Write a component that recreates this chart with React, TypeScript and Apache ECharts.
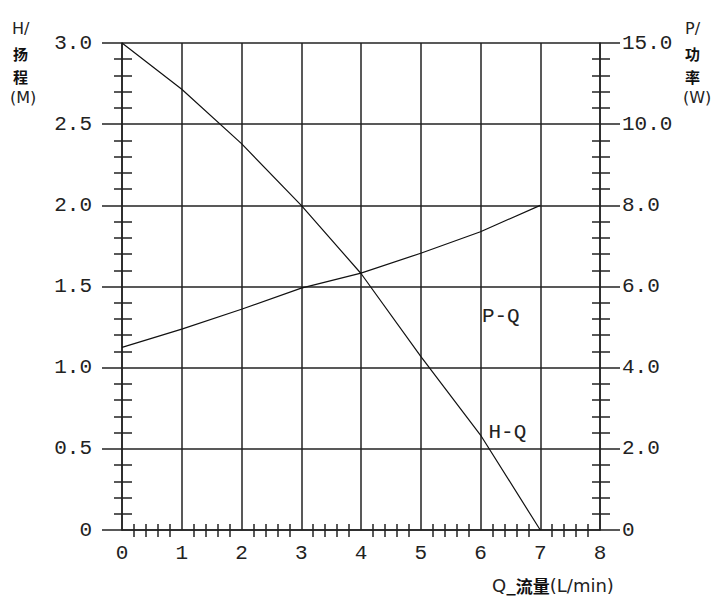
import React, { useEffect, useRef } from "react";
import * as echarts from "echarts";

// Flow Q (L/min)
const Q = [0, 1, 2, 3, 4, 5, 6, 7];
// Head H (m)
const H = [3.0, 2.715, 2.38, 2.0, 1.58, 1.07, 0.585, 0];
// Power P (W), plotted against the right axis
const P = [4.5, 4.95, 5.44, 5.96, 6.33, 6.82, 7.35, 8.0];

const X_TICKS = ["0", "1", "2", "3", "4", "5", "6", "7", "8"];
const H_TICKS = ["0", "0.5", "1.0", "1.5", "2.0", "2.5", "3.0"];
const P_TICKS = ["0", "2.0", "4.0", "6.0", "8.0", "10.0", "15.0"];

const PQ_LABEL_AT = [6.34, 5.25];
const HQ_LABEL_AT = [6.45, 0.6];

const NUM_FONT = "Liberation Mono";
const LINE = "#222";
const TXT = "#222";

export default function App() {
  const ref = useRef<HTMLDivElement>(null);
  useEffect(() => {
    if (!ref.current) return;
    const chart = echarts.init(ref.current, undefined, { renderer: "svg" });
    const gridA = { left: 122, right: 122, top: 43, bottom: 75 };
    const gridB = { left: 102, right: 102, top: 43, bottom: 75 };
    const minor = (len: number) => ({
      show: true,
      splitNumber: 5,
      length: len,
      lineStyle: { color: LINE, width: 1.5 },
    });
    const latinText = (x: number, y: number, text: string) => ({
      type: "text",
      x,
      y,
      style: {
        text,
        font: "16px 'DejaVu Sans'",
        fill: TXT,
        verticalAlign: "middle",
        align: "left",
      },
    });
    const cjkText = (x: number, y: number, text: string) => ({
      type: "text",
      x,
      y,
      style: {
        text,
        font: "bold 15px 'Noto Sans CJK SC'",
        fill: "#111",
        verticalAlign: "middle",
        align: "left",
      },
    });
    const option: any = {
      animation: false,
      backgroundColor: "#fff",
      grid: [gridA, gridB],
      xAxis: [
        {
          type: "value",
          gridIndex: 0,
          min: 0,
          max: 8,
          interval: 1,
          position: "bottom",
          axisLine: { show: true, onZero: false, lineStyle: { color: LINE, width: 1.5 } },
          axisTick: { show: false, inside: true },
          minorTick: minor(6),
          splitLine: { show: true, lineStyle: { color: LINE, width: 1.5 } },
          axisLabel: {
            margin: 13,
            fontFamily: NUM_FONT,
            fontSize: 21,
            color: TXT,
            formatter: (v: number) => X_TICKS[Math.round(v)] ?? "",
          },
        },
        {
          type: "value",
          gridIndex: 0,
          min: 0,
          max: 8,
          interval: 1,
          position: "bottom",
          axisLine: { show: false, onZero: false },
          axisTick: { show: false, inside: false },
          minorTick: minor(7),
          splitLine: { show: false },
          axisLabel: { show: false },
        },
        {
          type: "value",
          gridIndex: 1,
          min: 0,
          max: 1,
          show: false,
        },
      ],
      yAxis: [
        {
          type: "value",
          gridIndex: 0,
          min: 0,
          max: 3,
          interval: 0.5,
          position: "left",
          axisLine: { show: true, onZero: false, lineStyle: { color: LINE, width: 1.5 } },
          axisTick: { show: false, inside: true },
          minorTick: minor(10),
          splitLine: { show: false },
          axisLabel: {
            margin: 30,
            fontFamily: NUM_FONT,
            fontSize: 21,
            color: TXT,
            formatter: (v: number) => H_TICKS[Math.round(v / 0.5)] ?? "",
          },
        },
        {
          type: "value",
          gridIndex: 0,
          min: 0,
          max: 3,
          interval: 0.5,
          position: "left",
          axisLine: { show: false, onZero: false },
          axisTick: { show: false, inside: false },
          minorTick: minor(8),
          splitLine: { show: false },
          axisLabel: { show: false },
        },
        {
          type: "value",
          gridIndex: 0,
          min: 0,
          max: 12,
          interval: 2,
          position: "right",
          axisLine: { show: true, onZero: false, lineStyle: { color: LINE, width: 1.5 } },
          axisTick: { show: false, inside: true },
          minorTick: minor(8),
          splitLine: { show: false },
          axisLabel: {
            margin: 22,
            fontFamily: NUM_FONT,
            fontSize: 21,
            color: TXT,
            formatter: (v: number) => P_TICKS[Math.round(v / 2)] ?? "",
          },
        },
        {
          type: "value",
          gridIndex: 0,
          min: 0,
          max: 12,
          interval: 2,
          position: "right",
          axisLine: { show: false, onZero: false },
          axisTick: { show: false, inside: false },
          minorTick: minor(10),
          splitLine: { show: false },
          axisLabel: { show: false },
        },
        {
          type: "value",
          gridIndex: 1,
          min: 0,
          max: 3,
          interval: 0.5,
          axisLine: { show: false },
          axisTick: { show: false },
          axisLabel: { show: false },
          splitLine: { show: true, lineStyle: { color: LINE, width: 1.5 } },
        },
      ],
      series: [
        {
          name: "H-Q",
          type: "line",
          xAxisIndex: 0,
          yAxisIndex: 0,
          data: Q.map((q, i) => [q, H[i]]),
          showSymbol: false,
          symbol: "none",
          lineStyle: { color: "#111", width: 1.2 },
          z: 5,
          markPoint: {
            symbol: "circle",
            symbolSize: 0,
            label: {
              show: true,
              position: "inside",
              fontFamily: NUM_FONT,
              fontSize: 21,
              color: TXT,
              formatter: "H-Q",
            },
            data: [{ coord: HQ_LABEL_AT }],
          },
        },
        {
          name: "P-Q",
          type: "line",
          xAxisIndex: 0,
          yAxisIndex: 2,
          data: Q.map((q, i) => [q, P[i]]),
          showSymbol: false,
          symbol: "none",
          lineStyle: { color: "#111", width: 1.2 },
          z: 5,
          markPoint: {
            symbol: "circle",
            symbolSize: 0,
            label: {
              show: true,
              position: "inside",
              fontFamily: NUM_FONT,
              fontSize: 21,
              color: TXT,
              formatter: "P-Q",
            },
            data: [{ coord: PQ_LABEL_AT }],
          },
        },
      ],
      graphic: [
        latinText(12, 28, "H/"),
        cjkText(13, 53, "扬"),
        cjkText(13, 76, "程"),
        latinText(10, 97, "(M)"),
        latinText(685, 28, "P/"),
        cjkText(685, 53, "功"),
        cjkText(685, 76, "率"),
        latinText(683, 97, "(W)"),
        {
          type: "text",
          x: 492,
          y: 585,
          style: {
            text: "{a|Q}{b|_流量}{a|(L/min)}",
            verticalAlign: "middle",
            align: "left",
            rich: {
              a: { fontFamily: "DejaVu Sans", fontSize: 18, fill: TXT },
              b: { fontFamily: "Noto Sans CJK SC", fontWeight: "bold", fontSize: 17, fill: "#111" },
            },
          },
        },
      ],
    };
    chart.setOption(option);
    return () => chart.dispose();
  }, []);
  return (
    <div
      ref={ref}
      style={{ position: "fixed", left: 0, top: 0, width: 722, height: 605, background: "#fff" }}
    />
  );
}
